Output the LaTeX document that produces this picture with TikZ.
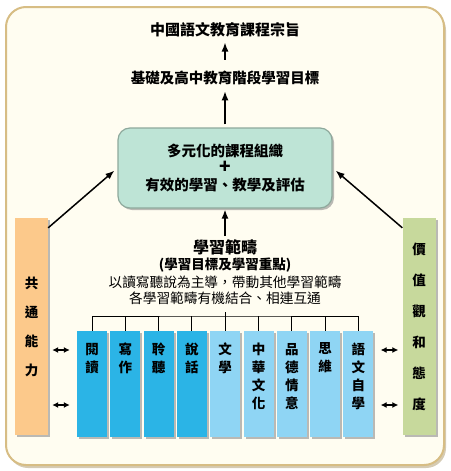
\documentclass[tikz,border=0pt]{standalone}
\usepackage{fontspec}
\setmainfont{Noto Sans CJK TC}
\usetikzlibrary{arrows.meta,shadows,calc}
\definecolor{framecream}{HTML}{FFFDF1}
\definecolor{frameedge}{HTML}{D7BD84}
\definecolor{orgbox}{HTML}{BEE4D6}
\definecolor{orgedge}{HTML}{8EA99C}
\definecolor{skillbar}{HTML}{FCC98B}
\definecolor{valuebar}{HTML}{C7D99C}
\definecolor{coreblue}{HTML}{2BB4E6}
\definecolor{otherblue}{HTML}{8FD5F4}
\tikzset{
  boxshadow/.style={drop shadow={shadow xshift=2pt, shadow yshift=-2pt, fill=black!45, opacity=0.6}},
  frame/.style={
    draw=frameedge,
    line width=2pt,
    rounded corners=20pt,
    fill=framecream,
    drop shadow={shadow xshift=2pt, shadow yshift=-3pt, fill=frameedge!80!black, opacity=0.5}
  },
  headline/.style={font=\bfseries\fontsize{14.5}{16}\selectfont, inner sep=3pt},
  orgnode/.style={
    draw=orgedge,
    line width=1.2pt,
    rounded corners=12pt,
    fill=orgbox,
    minimum width=214pt,
    minimum height=80pt,
    align=center,
    font=\bfseries\fontsize{14.5}{17}\selectfont,
    boxshadow
  },
  sidebar/.style={
    minimum width=33pt,
    minimum height=217pt,
    align=center,
    inner sep=0pt,
    boxshadow
  },
  domainbox/.style={
    minimum width=30pt,
    minimum height=106pt,
    inner sep=0pt,
    boxshadow
  },
  boxtext/.style={anchor=north, yshift=-12pt, align=center, inner sep=0pt,
    font=\bfseries\fontsize{13.5}{18}\selectfont},
  flow/.style={-{Latex[length=9pt, width=7pt]}, line width=1.5pt},
  biflow/.style={{Latex[length=6pt, width=6pt]}-{Latex[length=6pt, width=6pt]}, line width=1.5pt, shorten <=4pt, shorten >=7pt}
}

\begin{document}
\begin{tikzpicture}[x=1pt,y=-1pt]
\useasboundingbox (0,0) rectangle (450,471);

% outer frame
\node[frame, minimum width=438pt, minimum height=458pt] (frame) at (225,236) {};

% aims
\node[headline, font=\bfseries\fontsize{15}{16}\selectfont] (aim) at (225,30) {中國語文教育課程宗旨};
\node[headline] (target) at (225,78) {基礎及高中教育階段學習目標};
\draw[flow, shorten <=8pt, shorten >=2pt] (target.north) -- (aim.south);

% organisation box
\node[orgnode] (org) at (225,168) {多元化的課程組織\\{\fontsize{19}{17}\selectfont +}\\有效的學習、教學及評估};
\draw[flow, shorten <=3pt, shorten >=3pt] (org.north) -- (target.south);

% strands
\node[inner sep=3pt, font=\bfseries\fontsize{16}{18}\selectfont] (strand) at (225,247) {學習範疇};
\node[inner sep=1pt, font=\bfseries\fontsize{13.5}{15}\selectfont] (strandsub) at (225,265) {(學習目標及學習重點)};
\node[inner sep=1pt, font=\fontsize{13.7}{15}\selectfont] (noteone) at (225,282) {以讀寫聽說為主導，帶動其他學習範疇};
\node[inner sep=1pt, font=\fontsize{13.7}{15}\selectfont] (notetwo) at (225,298) {各學習範疇有機結合、相連互通};
\draw[flow, shorten >=1pt] (strand.north) -- (org.south);

% side bars
\node[sidebar, fill=skillbar, font=\bfseries\fontsize{13.5}{29}\selectfont] (skills) at (31.5,326.5) {共\\通\\能\\力};
\node[sidebar, fill=valuebar, font=\bfseries\fontsize{13.5}{31}\selectfont] (values) at (419,326.5) {價\\值\\觀\\和\\態\\度};
\draw[flow, shorten >=4pt] ([yshift=-10pt]skills.north east) -- (org.west);
\draw[flow, shorten >=4pt] ([yshift=-10pt]values.north west) -- (org.east);

% nine strands
\node[domainbox, fill=coreblue, label={[boxtext]north:閱\\讀}] (read) at (92,384) {};
\node[domainbox, fill=coreblue, label={[boxtext]north:寫\\作}] (write) at (125.3,384) {};
\node[domainbox, fill=coreblue, label={[boxtext]north:聆\\聽}] (listen) at (158.6,384) {};
\node[domainbox, fill=coreblue, label={[boxtext]north:說\\話}] (speak) at (191.9,384) {};
\node[domainbox, fill=otherblue, label={[boxtext]north:文\\學}] (lit) at (225.2,384) {};
\node[domainbox, fill=otherblue, label={[boxtext]north:中\\華\\文\\化}] (culture) at (258.5,384) {};
\node[domainbox, fill=otherblue, label={[boxtext]north:品\\德\\情\\意}] (moral) at (291.8,384) {};
\node[domainbox, fill=otherblue, label={[boxtext]north:思\\維}] (think) at (325.1,384) {};
\node[domainbox, fill=otherblue, label={[boxtext]north:語\\文\\自\\學}] (selfstudy) at (358.4,384) {};

% bracket over the strands
\coordinate (bar) at (225,316);
\draw[line width=1pt] (read.north) |- (bar) -| (selfstudy.north);
\draw[line width=1pt] (write.north) -- (write.north |- bar);
\draw[line width=1pt] (listen.north) -- (listen.north |- bar);
\draw[line width=1pt] (speak.north) -- (speak.north |- bar);
\draw[line width=1pt] (lit.north) -- ($(lit.north |- bar)+(0,-4)$);
\draw[line width=1pt] (culture.north) -- (culture.north |- bar);
\draw[line width=1pt] (moral.north) -- (moral.north |- bar);
\draw[line width=1pt] (think.north) -- (think.north |- bar);

% links to the side bars
\coordinate (rowa) at (0,350);
\coordinate (rowb) at (0,405);
\draw[biflow] (skills.east |- rowa) -- (read.west |- rowa);
\draw[biflow] (skills.east |- rowb) -- (read.west |- rowb);
\draw[biflow, shorten <=7pt, shorten >=4pt] (selfstudy.east |- rowa) -- (values.west |- rowa);
\draw[biflow, shorten <=7pt, shorten >=4pt] (selfstudy.east |- rowb) -- (values.west |- rowb);

\end{tikzpicture}
\end{document}
